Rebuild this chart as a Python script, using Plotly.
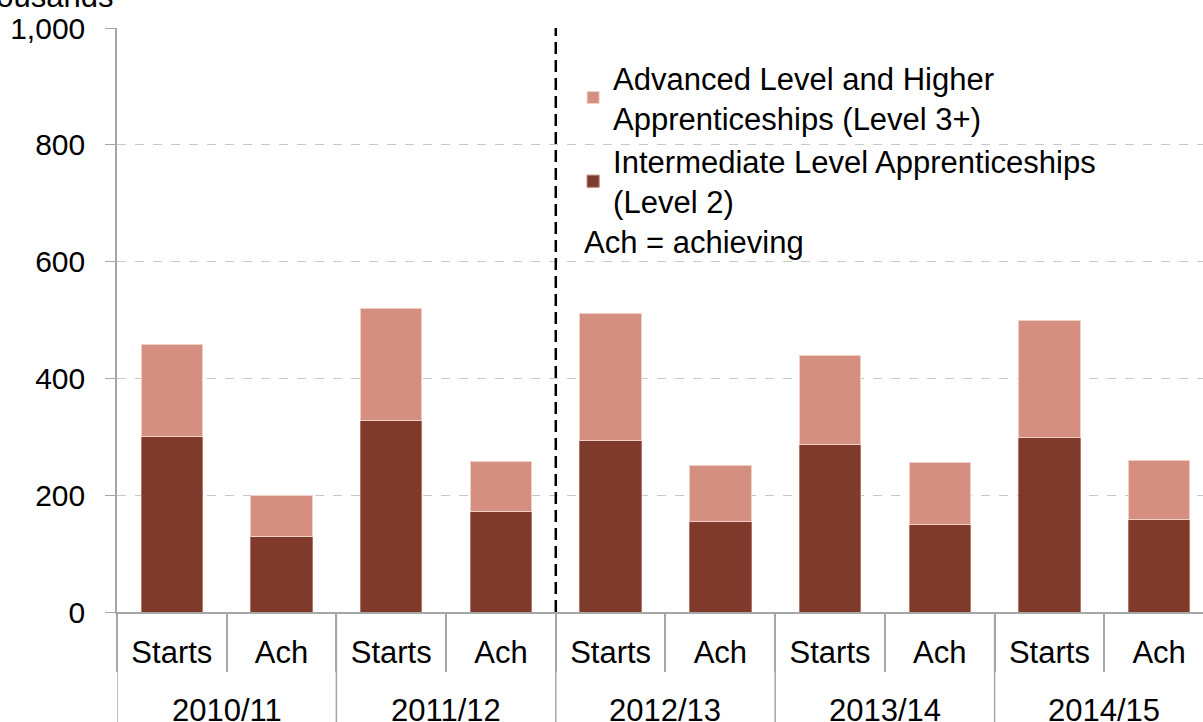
import plotly.graph_objects as go

years = ["2010/11", "2010/11", "2011/12", "2011/12", "2012/13", "2012/13",
         "2013/14", "2013/14", "2014/15", "2014/15"]
kinds = ["Starts", "Ach"] * 5
level2 = [300, 130, 328, 172, 294, 155, 287, 150, 298, 159]
level3 = [158, 69, 192, 86, 217, 96, 153, 106, 202, 101]

name2 = "Intermediate Level Apprenticeships<br>(Level 2)"
name3 = "Advanced Level and Higher<br>Apprenticeships (Level 3+)"

FONT = "Liberation Sans, Arial, sans-serif"
FS = 31
GREY = "#A6A6A6"

cats = [f"{y} {k}" for y, k in zip(years, kinds)]

fig = go.Figure()
fig.add_trace(go.Bar(x=cats, y=level2, name=name2, legendrank=2,
                     marker=dict(color="#7F3A2C", line=dict(color="#B0766A", width=1)),
                     width=0.56))
fig.add_trace(go.Bar(x=cats, y=level3, name=name3, legendrank=1,
                     marker=dict(color="#D48F80", line=dict(color="#F0CFC7", width=1)),
                     width=0.56))

fig.update_layout(
    barmode="stack",
    width=1203, height=722,
    margin=dict(l=117, r=0, t=28, b=110),
    paper_bgcolor="white", plot_bgcolor="white",
    font=dict(family=FONT, size=FS, color="black"),
    showlegend=True,
    legend=dict(x=0.42, y=0.961, xanchor="left", yanchor="top",
                traceorder="normal", bgcolor="rgba(0,0,0,0)",
                font=dict(family=FONT, size=FS, color="black"),
                tracegroupgap=0),
)
fig.update_yaxes(range=[0, 1000], tickvals=[0, 200, 400, 600, 800, 1000],
                 ticktext=["0", "200", "400", "600", "800", "1,000"],
                 showline=True, linecolor=GREY, linewidth=1.5,
                 ticks="outside", ticklen=10, tickcolor=GREY,
                 showgrid=True, gridcolor="#C8C8C8", griddash="dash", gridwidth=1,
                 zeroline=False, ticklabelstandoff=14, automargin=False,
                 tickfont=dict(family=FONT, size=30, color="black"))
fig.update_xaxes(type="category", range=[-0.5, 9.4], domain=[0, 1],
                 tickvals=cats, ticktext=kinds,
                 showline=True, linecolor=GREY, linewidth=1.5,
                 ticks="outside", tickson="boundaries", ticklen=58, tickcolor=GREY,
                 tickwidth=1.5, showgrid=False,
                 ticklabelstandoff=12, automargin=False,
                 tickfont=dict(family=FONT, size=FS, color="black"))

# dashed separator between 2011/12 and 2012/13
fig.add_shape(type="line", xref="x", yref="y", x0=3.5, x1=3.5, y0=0, y1=1000,
              line=dict(color="black", width=2.5, dash="12px,6px"))

# year group labels and dividers
uniq_years = list(dict.fromkeys(years))
for yr in uniq_years:
    idx = [i for i, y in enumerate(years) if y == yr]
    centre = sum(idx) / len(idx)
    fig.add_annotation(text=yr, xref="x", yref="paper", x=centre, y=-0.168,
                       xanchor="center", yanchor="middle", showarrow=False,
                       font=dict(family=FONT, size=FS, color="black"))
    fig.add_shape(type="line", xref="x", yref="paper", x0=idx[0] - 0.5, x1=idx[0] - 0.5,
                  y0=0, y1=-0.2, line=dict(color=GREY, width=1.5))

fig.add_annotation(text="Ach = achieving", xref="paper", yref="paper",
                   x=0.428, y=0.632, xanchor="left", yanchor="middle",
                   showarrow=False, font=dict(family=FONT, size=FS, color="black"))
fig.add_annotation(text="Thousands", xref="paper", yref="paper",
                   x=-0.146, y=1.02, xanchor="left", yanchor="bottom",
                   showarrow=False, font=dict(family=FONT, size=FS, color="black"))

fig.write_html("out.html", config={"displayModeBar": False},
               post_script="document.body.style.margin='0';document.body.style.overflow='hidden';")
